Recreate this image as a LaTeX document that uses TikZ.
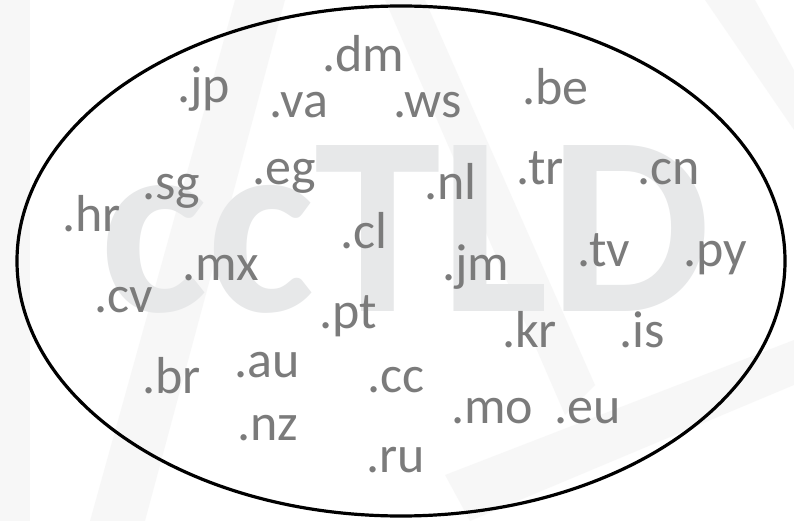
\documentclass[tikz,border=0pt]{standalone}
\usepackage{fontspec}
\usetikzlibrary{shapes.geometric}
\setmainfont{Carlito}
\definecolor{lbl}{HTML}{7B7B7B}
\definecolor{wm}{HTML}{E7E8E9}
\definecolor{bgband}{HTML}{EFEFEF}
\tikzset{
  tld/.style={anchor=base west, inner sep=0pt, text=lbl, font=\fontsize{52}{52}\selectfont},
  band/.style={fill=bgband, draw=none, opacity=0.45},
}
\begin{document}
\begin{tikzpicture}[x=1pt,y=-1pt]
\useasboundingbox (0,0) rectangle (794,521);
\fill[white] (0,0) rectangle (794,521);
% faint background watermark bands
\fill[band] (0,0) rectangle (30,521);
\fill[band] (235,0) -- (285,0) -- (145,521) -- (90,521) -- cycle;
\fill[band] (385,0) -- (425,0) -- (595,385) -- (565,415) -- cycle;
\fill[band] (445,475) -- (794,340) -- (794,385) -- (470,521) -- cycle;
\fill[band] (705,0) -- (755,0) -- (794,70) -- (794,130) -- cycle;
% big light watermark text
\node[anchor=base west, inner sep=0pt, text=wm, font=\bfseries\fontsize{256}{256}\selectfont] (cctld) at (100,311) {ccTLD};
% ellipse
\node[draw=black, line width=3.2pt, ellipse, inner sep=0pt, outer sep=0pt, minimum width=768pt, minimum height=510pt] (set) at (401,261) {};
% labels
\node[tld] (dm) at (322,72) {.dm};
\node[tld] (jp) at (177,103) {.jp};
\node[tld] (va) at (269,118) {.va};
\node[tld] (ws) at (393,118) {.ws};
\node[tld] (be) at (522,105) {.be};
\node[tld] (eg) at (252,185) {.eg};
\node[tld] (sg) at (142,200) {.sg};
\node[tld] (hr) at (62,232) {.hr};
\node[tld] (cl) at (340,248) {.cl};
\node[tld] (nl) at (424,200) {.nl};
\node[tld] (tr) at (516,185) {.tr};
\node[tld] (cn) at (637,185) {.cn};
\node[tld] (mx) at (182,280) {.mx};
\node[tld] (cv) at (94,312) {.cv};
\node[tld] (pt) at (319,328) {.pt};
\node[tld] (jm) at (442,280) {.jm};
\node[tld] (tv) at (577,266) {.tv};
\node[tld] (py) at (683,266) {.py};
\node[tld] (kr) at (502,347) {.kr};
\node[tld] (is) at (619,347) {.is};
\node[tld] (br) at (142,393) {.br};
\node[tld] (au) at (234,377) {.au};
\node[tld] (cc) at (367,392) {.cc};
\node[tld] (nz) at (237,440) {.nz};
\node[tld] (mo) at (451,423) {.mo};
\node[tld] (eu) at (554,423) {.eu};
\node[tld] (ru) at (366,472) {.ru};
\end{tikzpicture}
\end{document}
